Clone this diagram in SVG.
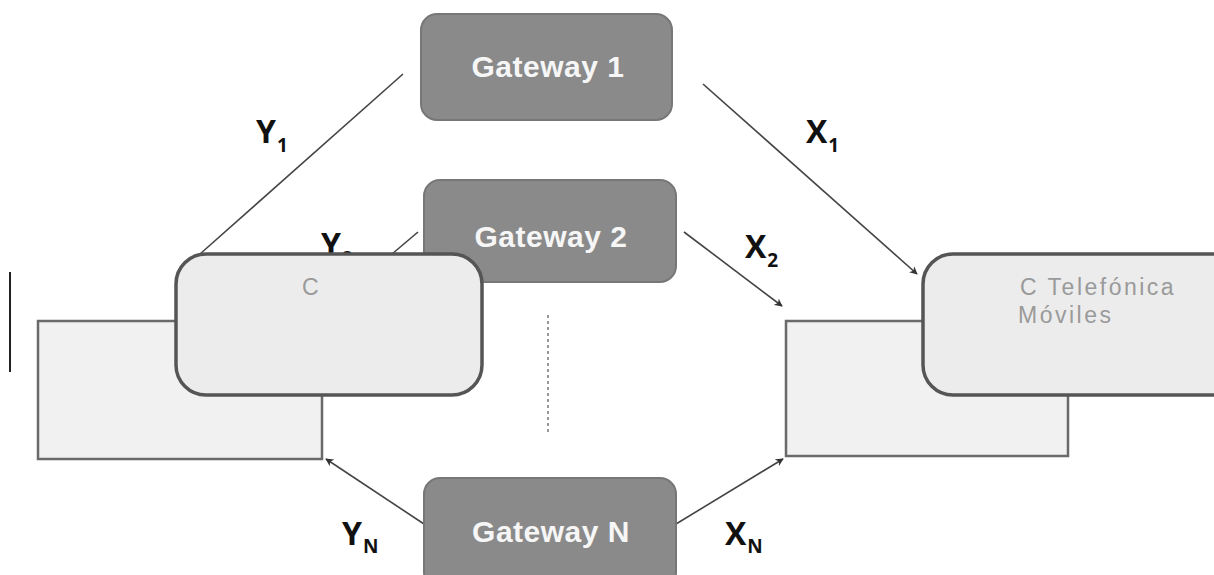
<svg xmlns="http://www.w3.org/2000/svg" width="1214" height="575" viewBox="0 0 1214 575">
<defs>
<marker id="ah" viewBox="0 0 10 10" refX="9" refY="5" markerWidth="8" markerHeight="8" orient="auto-start-reverse" markerUnits="userSpaceOnUse">
<path d="M0,0 L10,5 L0,10 L3,5 Z" fill="#333"/>
</marker>
</defs>
<style>
.gw{fill:#8a8a8a;stroke:#777;stroke-width:2}
.gwt{font-family:"Liberation Sans",Arial,sans-serif;font-weight:bold;font-size:30px;letter-spacing:0.5px;fill:#f6f6f6;text-anchor:middle}
.back{fill:#f1f1f1;stroke:#6a6a6a;stroke-width:2.5}
.front{fill:#ececec;stroke:#555;stroke-width:3.5}
.ct{font-family:"Liberation Sans",Arial,sans-serif;font-size:23px;letter-spacing:2.5px;fill:#9a9a9a}
.lbl{font-family:"Open Sans","Liberation Sans",sans-serif;font-weight:bold;font-size:32px;fill:#111}
.sub{font-size:19px}
.ln{stroke:#444;stroke-width:1.6;fill:none}
</style>
<rect width="1214" height="575" fill="#fff"/>
<line x1="10" y1="272" x2="10" y2="372" stroke="#222" stroke-width="2"/>
<line x1="548" y1="315" x2="548" y2="432" stroke="#777" stroke-width="1.5" stroke-dasharray="3,3"/>
<g id="conn">
<line class="ln" x1="403" y1="74" x2="200" y2="254"/>
<line class="ln" x1="418" y1="232" x2="392" y2="254"/>
<line class="ln" x1="703" y1="84" x2="917" y2="274" marker-end="url(#ah)"/>
<line class="ln" x1="684" y1="232" x2="782" y2="306" marker-end="url(#ah)"/>
<line class="ln" x1="424" y1="524" x2="326" y2="459" marker-end="url(#ah)"/>
<line class="ln" x1="676" y1="524" x2="783" y2="459" marker-end="url(#ah)"/>
<text class="lbl" x="256" y="143">Y<tspan class="sub" dx="1" dy="9">1</tspan></text>
<text class="lbl" x="321" y="256">Y<tspan class="sub" dx="1" dy="9">2</tspan></text>
<text class="lbl" x="806" y="143">X<tspan class="sub" dx="1" dy="9">1</tspan></text>
<text class="lbl" x="745" y="258">X<tspan class="sub" dx="1" dy="9">2</tspan></text>
<text class="lbl" x="342" y="545">Y<tspan class="sub" dx="1" dy="8">N</tspan></text>
<text class="lbl" x="725" y="545">X<tspan class="sub" dx="1" dy="8">N</tspan></text>
</g>
<g id="gateway1">
<rect class="gw" x="421" y="14" width="251" height="106" rx="16"/>
<text class="gwt" x="548" y="77">Gateway 1</text>
</g>
<g id="gateway2">
<rect class="gw" x="424" y="180" width="252" height="102" rx="16"/>
<text class="gwt" x="551" y="247">Gateway 2</text>
</g>
<g id="gatewayN">
<rect class="gw" x="424" y="478" width="252" height="110" rx="16"/>
<text class="gwt" x="551" y="542">Gateway N</text>
</g>
<g id="left-back">
<rect class="back" x="38" y="321" width="284" height="138"/>
</g>
<g id="left-front">
<rect class="front" x="176" y="254" width="306" height="141" rx="30"/>
<text class="ct" x="302" y="295">C</text>
</g>
<g id="right-back">
<rect class="back" x="786" y="321" width="282" height="135"/>
</g>
<g id="right-front">
<rect class="front" x="923" y="254" width="320" height="141" rx="30"/>
<text class="ct" x="1020" y="295">C Telefónica</text>
<text class="ct" x="1018" y="323">Móviles</text>
</g>
</svg>
